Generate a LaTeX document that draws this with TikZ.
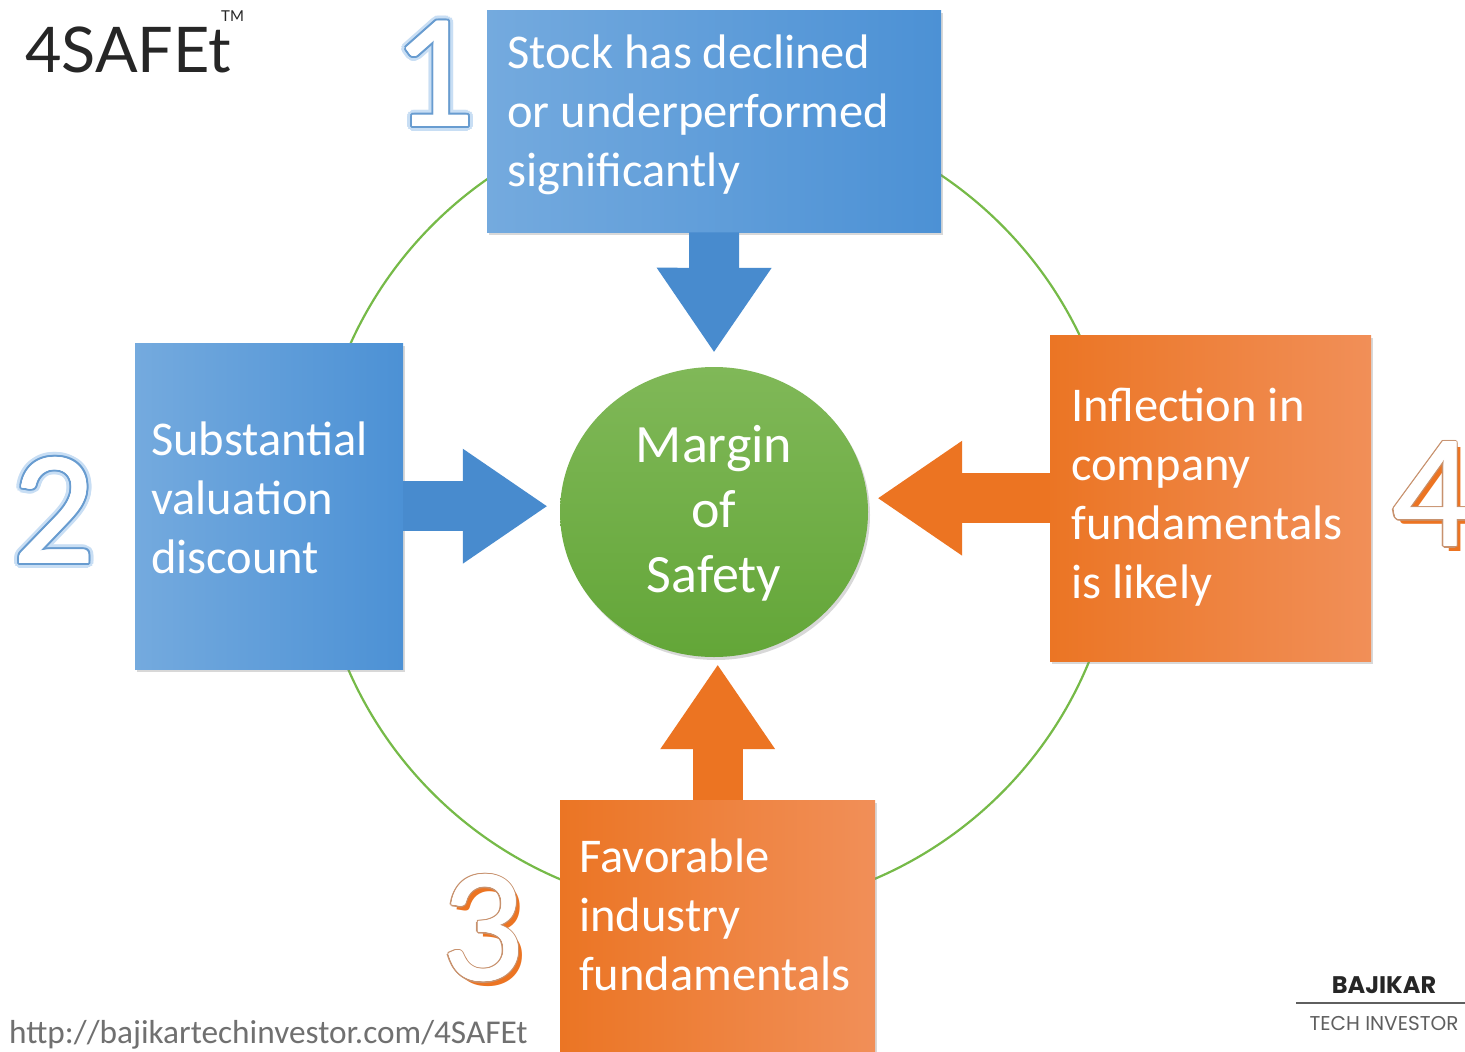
\documentclass[tikz,border=0pt]{standalone}
\usepackage{fontspec}
\usepackage{tikz}
\usetikzlibrary{arrows.meta,shapes.geometric,shadows}

\newfontfamily\carlito{Carlito}
\newfontfamily\latofont{Lato}
\newfontfamily\brandfont{Poppins}

\definecolor{blueL}{RGB}{116,170,222}
\definecolor{blueR}{RGB}{76,145,213}
\definecolor{blueArrow}{RGB}{72,139,206}
\definecolor{orangeL}{RGB}{235,117,36}
\definecolor{orangeR}{RGB}{241,143,88}
\definecolor{orangeArrow}{RGB}{236,116,34}
\definecolor{greenTop}{RGB}{128,184,88}
\definecolor{greenBot}{RGB}{99,166,56}
\definecolor{ringGreen}{RGB}{118,186,72}
\definecolor{glowBlue}{RGB}{200,222,244}
\definecolor{lineBlue}{RGB}{104,156,208}
\definecolor{numEdge}{RGB}{200,146,110}
\definecolor{logoGray}{RGB}{38,38,38}
\definecolor{urlGray}{RGB}{112,112,112}
\definecolor{brandGray}{RGB}{95,95,95}

\begin{document}
\begin{tikzpicture}[x=1pt, y=-1pt,
box_blue/.style={rectangle, anchor=north west, left color=blueL, right color=blueR,
  drop shadow={shadow xshift=2pt, shadow yshift=-3pt, opacity=0.3}},
box_orange/.style={rectangle, anchor=north west, left color=orangeL, right color=orangeR,
  drop shadow={shadow xshift=2pt, shadow yshift=-3pt, opacity=0.3}},
box_text/.style={text=white, align=left, anchor=base west, inner sep=0pt,
  font=\carlito\fontsize{48.5}{59}\selectfont},
mid_text/.style={text=white, align=center, anchor=base, inner sep=0pt,
  font=\carlito\fontsize{54}{65}\selectfont},
flow_style/.style={line width=50pt, -{Triangle[length=84pt, width=115pt, line width=0pt]}},
num_style/.style={anchor=base, inner sep=0pt, font=\carlito\fontsize{162}{162}\selectfont}]

\path[use as bounding box, fill=white] (0,0) rectangle (1465,1052);

\node[circle, draw=ringGreen, line width=2.2pt, minimum size=804pt] (ring) at (717,509) {};

\node[box_blue, minimum width=454pt, minimum height=222pt] (stock) at (487,10) {};
\node[box_blue, minimum width=268pt, minimum height=326pt] (valuation) at (135,343) {};
\node[box_orange, minimum width=321pt, minimum height=326pt] (inflection) at (1050,335) {};
\node[box_orange, minimum width=315pt, minimum height=270pt] (industry) at (560,800) {};

\node[ellipse, minimum width=308pt, minimum height=290pt, top color=greenTop, bottom color=greenBot,
  drop shadow={shadow xshift=2pt, shadow yshift=-3pt, opacity=0.3}] (mos) at (714,512) {};

\draw[flow_style, blueArrow, shorten >=15pt] (stock.south) -- (mos.north);
\draw[flow_style, blueArrow, shorten >=13pt] (valuation.east) -- (valuation.east -| mos.west);
\draw[flow_style, orangeArrow, shorten >=10pt] (inflection.west) -- (inflection.west -| mos.east);
\draw[flow_style, orangeArrow, shorten >=8pt] (industry.north) -- (industry.north |- mos.south);

% base of a multi-line node is its last line
\node[box_text] (stocktext) at (507,186) {Stock has declined\\or underperformed\\significantly};
\node[box_text] (valtext) at (151,573) {Substantial\\valuation\\discount};
\node[box_text] (inftext) at (1071,598) {Inflection in\\company\\fundamentals\\is likely};
\node[box_text] (indtext) at (579,990) {Favorable\\industry\\fundamentals};
\node[mid_text] (mostext) at (714,592) {Margin\\of\\Safety};

% step numbers: blue ones glow, orange ones carry an offset shadow
\coordinate (p1) at (434,126);
\coordinate (p2) at (54,563);
\coordinate (p3) at (483,980);
\coordinate (p4) at (1433,546);
\foreach \p/\d in {p1/1, p2/2} {
  \foreach \a in {0,20,...,340}
    \node[num_style, text=glowBlue] (glow\d\a) at ([shift={(\a:5.5)}]\p) {\d};
  \foreach \a in {0,30,...,330}
    \node[num_style, text=lineBlue] (edge\d\a) at ([shift={(\a:2.6)}]\p) {\d};
  \foreach \a in {0,45,...,315}
    \node[num_style, text=white] (fill\d\a) at ([shift={(\a:0.8)}]\p) {\d};
}
\foreach \p/\d in {p3/3, p4/4} {
  \node[num_style, text=orangeArrow] (shade\d) at ([shift={(5,5)}]\p) {\d};
  \foreach \a in {0,30,...,330}
    \node[num_style, text=numEdge] (edge\d\a) at ([shift={(\a:2)}]\p) {\d};
  \foreach \a in {0,45,...,315}
    \node[num_style, text=white] (fill\d\a) at ([shift={(\a:0.7)}]\p) {\d};
}

\node[anchor=base west, inner sep=0pt, text=logoGray, font=\latofont\fontsize{63}{63}\selectfont] (logo) at (25,72) {4SAFEt};
\node[anchor=base west, inner sep=0pt, text=logoGray, font=\latofont\fontsize{15}{15}\selectfont] (tm) at (221,21) {TM};
\node[anchor=base west, inner sep=0pt, text=urlGray, font=\carlito\fontsize{33.3}{34}\selectfont] (url) at (9,1043) {http://bajikartechinvestor.com/4SAFEt};

\node[anchor=base, inner sep=0pt, text=logoGray, font=\brandfont\bfseries\fontsize{24}{24}\selectfont] (brand) at (1384,993) {BAJIKAR};
\coordinate (ruleL) at (1296,1003);
\coordinate (ruleR) at (1465,1003);
\draw[brandGray, line width=1.5pt] (ruleL) -- (ruleR);
\node[anchor=base, inner sep=0pt, text=brandGray, font=\brandfont\fontsize{20}{20}\selectfont] (tech) at (1384,1030) {TECH INVESTOR};

\end{tikzpicture}
\end{document}
